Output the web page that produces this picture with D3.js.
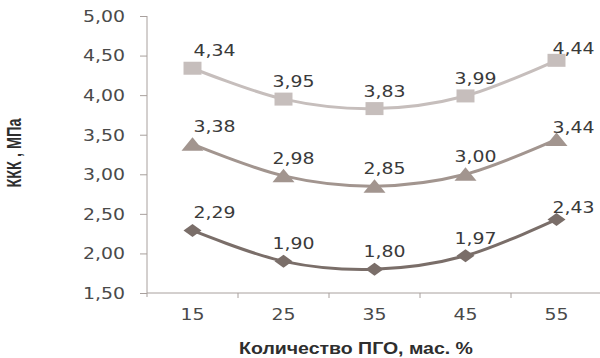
<!DOCTYPE html>
<html>
<head>
<meta charset="utf-8">
<script src="https://cdn.jsdelivr.net/npm/d3@7/dist/d3.min.js"></script>
<style>
  html, body { margin: 0; padding: 0; background: #fff; }
  svg { display: block; }
</style>
</head>
<body>
<svg id="chart" width="600" height="358"></svg>
<script>
// Categories: amount of ПГО, mass %
const categories = ["15", "25", "35", "45", "55"];
// Strength series (MPa)
const seriesSquare   = [4.34, 3.95, 3.83, 3.99, 4.44];
const seriesTriangle = [3.38, 2.98, 2.85, 3.00, 3.44];
const seriesDiamond  = [2.29, 1.90, 1.80, 1.97, 2.43];
// Y axis ticks
const yTicks = [1.5, 2.0, 2.5, 3.0, 3.5, 4.0, 4.5, 5.0];

const fmt = v => v.toFixed(2).replace(".", ",");
const SX = 1.26; // horizontal text stretch

const svg = d3.select("#chart");
const plotLeft = 147, plotRight = 602, plotTop = 16, plotBottom = 293;

const x = d3.scaleBand().domain(categories).range([plotLeft, plotRight]).padding(0);
const y = d3.scaleLinear().domain([1.5, 5]).range([plotBottom, plotTop]);

const axisColor = "#a8a09d";
const labelColor = "#4a4a4a";

function stretchText(sel, k = SX) {
  sel.each(function () {
    const t = d3.select(this);
    const tx = +t.attr("x") || 0;
    const ty = +t.attr("y") || 0;
    t.attr("x", 0).attr("y", 0)
     .attr("transform", `translate(${tx},${ty}) scale(${k},1)`);
  });
}

// Y axis
const yAxis = svg.append("g")
  .attr("transform", `translate(${plotLeft},0)`)
  .call(d3.axisLeft(y).tickValues(yTicks).tickFormat(fmt).tickSize(7).tickSizeOuter(0).tickPadding(15));
yAxis.select(".domain").attr("stroke", axisColor).attr("d", `M0,${plotTop}V${plotBottom + 4}`);
yAxis.selectAll(".tick line").attr("stroke", axisColor);
yAxis.selectAll("text")
  .attr("fill", labelColor)
  .style("font-family", "DejaVu Sans")
  .style("font-size", "15px")
  .attr("dy", "0.36em")
  .call(stretchText);

// X axis line with ticks at band boundaries
const xAxis = svg.append("g");
xAxis.append("line")
  .attr("x1", plotLeft).attr("x2", plotRight)
  .attr("y1", plotBottom).attr("y2", plotBottom)
  .attr("stroke", axisColor);
const boundaries = categories.slice(1).map(c => x(c));
xAxis.selectAll("line.tk").data(boundaries).enter().append("line")
  .attr("class", "tk")
  .attr("x1", d => d).attr("x2", d => d)
  .attr("y1", plotBottom).attr("y2", plotBottom + 5)
  .attr("stroke", axisColor);
xAxis.selectAll("text").data(categories).enter().append("text")
  .attr("x", d => x(d) + x.bandwidth() / 2)
  .attr("y", plotBottom + 27)
  .attr("text-anchor", "middle")
  .attr("fill", labelColor)
  .style("font-family", "DejaVu Sans")
  .style("font-size", "15px")
  .text(d => d)
  .call(stretchText);

// Axis titles
svg.append("text")
  .attr("x", 356).attr("y", 354)
  .attr("text-anchor", "middle")
  .attr("fill", "#2e2e2e")
  .style("font-family", "Liberation Sans")
  .style("font-weight", "bold")
  .style("font-size", "16px")
  .text("Количество ПГО, мас. %")
  .call(stretchText, 1.22);

svg.append("text")
  .attr("transform", "translate(21,153) rotate(-90) scale(1,1.35)")
  .attr("text-anchor", "middle")
  .attr("fill", "#2e2e2e")
  .style("font-family", "Liberation Sans")
  .style("font-weight", "bold")
  .style("font-size", "14.5px")
  .text("ККК , МПа");

// Series
const cx = c => x(c) + x.bandwidth() / 2;
const line = d3.line()
  .x((d, i) => cx(categories[i]))
  .y(d => y(d))
  .curve(d3.curveCatmullRom.alpha(0));

const series = [
  { values: seriesSquare,   color: "#c6bebc", shape: "square" },
  { values: seriesTriangle, color: "#a2958f", shape: "triangle" },
  { values: seriesDiamond,  color: "#7a6e69", shape: "diamond" }
];

function markerPath(shape) {
  if (shape === "square") return "M-9,-6.5H9V6.5H-9Z";
  if (shape === "triangle") return "M0,-7L11,6.5H-11Z";
  return "M0,-6.5L9,0L0,6.5L-9,0Z";
}

series.forEach(s => {
  const g = svg.append("g");
  g.append("path")
    .attr("d", line(s.values))
    .attr("fill", "none")
    .attr("stroke", s.color)
    .attr("stroke-width", 3);
  g.selectAll("path.m").data(s.values).enter().append("path")
    .attr("class", "m")
    .attr("d", markerPath(s.shape))
    .attr("transform", (d, i) => `translate(${cx(categories[i])},${y(d)})`)
    .attr("fill", s.color);
  const n = s.values.length;
  g.selectAll("text").data(s.values).enter().append("text")
    .attr("x", (d, i) => cx(categories[i]) + (i === 0 ? 22 : i === n - 1 ? 17 : 10))
    .attr("y", (d, i) => y(d) - (i === n - 1 ? 11 : 17) + 5)
    .attr("text-anchor", "middle")
    .attr("fill", "#3a3a3a")
    .style("font-family", "DejaVu Sans")
    .style("font-size", "15px")
    .text(fmt)
    .call(stretchText);
});
</script>
</body>
</html>
